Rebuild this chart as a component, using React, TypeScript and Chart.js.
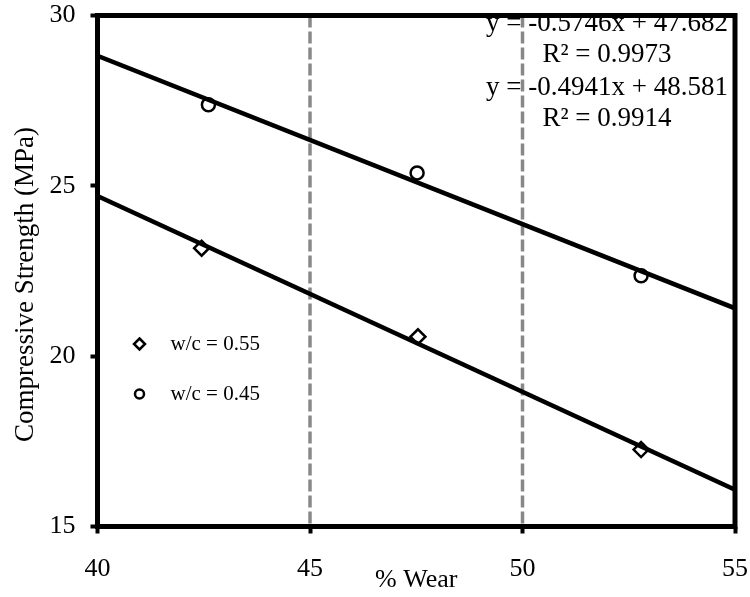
import React, { useEffect, useRef } from "react";
import { Chart, registerables } from "chart.js";

Chart.register(...registerables);

// ---- Data ----
const xTicks = [40, 45, 50, 55];
const yTicks = [15, 20, 25, 30];
const referenceWear = [45, 50];

const wear055 = [42.45, 47.54, 52.79];
const strength055 = [23.17, 20.57, 17.26];
const wear045 = [42.61, 47.52, 52.79];
const strength045 = [27.38, 25.38, 22.36];

const fitSlopes = [-0.5746, -0.4941];
const fitIntercepts = [47.682, 48.581];
const equationLines = [
  "y = -0.5746x + 47.682",
  "R\u00B2 = 0.9973",
  "y = -0.4941x + 48.581",
  "R\u00B2 = 0.9914",
];
const legendLabels = ["w/c = 0.55", "w/c = 0.45"];
const xTitle = "% Wear";
const yTitle = "Compressive Strength (MPa)";

const FONT = "'Liberation Serif', 'Times New Roman', serif";

const xMin = xTicks[0];
const xMax = xTicks[xTicks.length - 1];
const yMin = yTicks[0];
const yMax = yTicks[yTicks.length - 1];

const trend = (i: number) => [
  { x: xMin, y: fitSlopes[i] * xMin + fitIntercepts[i] },
  { x: xMax, y: fitSlopes[i] * xMax + fitIntercepts[i] },
];

const overlayPlugin = {
  id: "overlay",
  afterDraw(chart: any) {
    const { ctx, chartArea } = chart;
    const { left, top, right, bottom } = chartArea;
    ctx.save();
    // frame
    ctx.strokeStyle = "#000";
    ctx.lineWidth = 5;
    ctx.strokeRect(left, top, right - left, bottom - top);

    // equations
    ctx.fillStyle = "#000";
    ctx.textAlign = "center";
    ctx.textBaseline = "middle";
    ctx.font = `27px ${FONT}`;
    const eqY = [24, 54.5, 87.5, 118.5];
    equationLines.forEach((t, i) => {
      ctx.fillText(t, 607, eqY[i]);
    });

    // legend
    ctx.font = `21px ${FONT}`;
    ctx.textAlign = "left";
    const lx = left + 42;
    const ly = [top + 328.5, top + 378.5];
    ctx.lineWidth = 2.5;
    ctx.strokeStyle = "#000";
    ctx.fillStyle = "#fff";
    // diamond
    const r = 5.5;
    ctx.beginPath();
    ctx.moveTo(lx, ly[0] - r);
    ctx.lineTo(lx + r, ly[0]);
    ctx.lineTo(lx, ly[0] + r);
    ctx.lineTo(lx - r, ly[0]);
    ctx.closePath();
    ctx.fill();
    ctx.stroke();
    // circle
    ctx.beginPath();
    ctx.arc(lx, ly[1], 4.5, 0, Math.PI * 2);
    ctx.fill();
    ctx.stroke();
    ctx.fillStyle = "#000";
    legendLabels.forEach((t, i) => ctx.fillText(t, lx + 31, ly[i]));
    ctx.restore();
  },
};

export default function App() {
  const ref = useRef<HTMLCanvasElement | null>(null);
  useEffect(() => {
    if (!ref.current) return;
    const chart = new Chart(ref.current, {
      type: "scatter",
      data: {
        datasets: [
          ...referenceWear.map((w) => ({
            type: "line" as const,
            label: `ref ${w}`,
            data: [
              { x: w, y: yMax },
              { x: w, y: yMin },
            ],
            borderColor: "#888888",
            borderWidth: 3.5,
            borderDash: [12, 4],
            pointRadius: 0,
            order: 3,
          })),
          {
            type: "line" as const,
            label: "fit 0.55",
            data: trend(0),
            borderColor: "#000",
            borderWidth: 4.5,
            pointRadius: 0,
            order: 0,
          },
          {
            type: "line" as const,
            label: "fit 0.45",
            data: trend(1),
            borderColor: "#000",
            borderWidth: 4.5,
            pointRadius: 0,
            order: 0,
          },
          {
            label: legendLabels[0],
            data: wear055.map((x, i) => ({ x, y: strength055[i] })),
            pointStyle: "rectRot",
            pointRadius: 7.5,
            pointBorderWidth: 2.5,
            pointBackgroundColor: "#fff",
            pointBorderColor: "#000",
            order: 1,
          },
          {
            label: legendLabels[1],
            data: wear045.map((x, i) => ({ x, y: strength045[i] })),
            pointStyle: "circle",
            pointRadius: 6.5,
            pointBorderWidth: 2.5,
            pointBackgroundColor: "#fff",
            pointBorderColor: "#000",
            order: 1,
          },
        ],
      },
      options: {
        animation: false,
        responsive: false,
        layout: { padding: { left: 0, right: 15, top: 15.5, bottom: 0 } },
        plugins: {
          legend: { display: false },
          tooltip: { enabled: false },
        },
        scales: {
          x: {
            type: "linear",
            min: xMin,
            max: xMax,
            afterBuildTicks: (s: any) => {
              s.ticks = xTicks.map((v) => ({ value: v }));
            },
            afterFit: (s: any) => {
              s.height = 70.5;
              s.paddingLeft = 0;
              s.paddingRight = 0;
            },
            ticks: {
              color: "#000",
              font: { family: FONT, size: 26 },
              padding: 20,
            },
            grid: {
              drawOnChartArea: false,
              drawTicks: true,
              tickLength: 7,
              tickWidth: 4,
              tickColor: "#000",
            },
            border: { display: false },
            title: {
              display: true,
              text: xTitle,
              color: "#000",
              font: { family: FONT, size: 26 },
              padding: { top: 0, bottom: 1 },
            },
          },
          y: {
            type: "linear",
            min: yMin,
            max: yMax,
            afterBuildTicks: (s: any) => {
              s.ticks = yTicks.map((v) => ({ value: v }));
            },
            afterFit: (s: any) => {
              s.width = 97.5;
              s.paddingTop = 0;
              s.paddingBottom = 0;
            },
            ticks: {
              color: "#000",
              font: { family: FONT, size: 26 },
              padding: 15,
            },
            grid: {
              drawOnChartArea: false,
              drawTicks: true,
              tickLength: 7,
              tickWidth: 4,
              tickColor: "#000",
            },
            border: { display: false },
            title: {
              display: true,
              text: yTitle + "\u00A0\u00A0\u00A0\u00A0",
              color: "#000",
              font: { family: FONT, size: 27 },
              padding: { top: 10, bottom: 0 },
            },
          },
        },
      },
      plugins: [overlayPlugin],
    });
    return () => chart.destroy();
  }, []);
  return (
    <div style={{ position: "fixed", left: 0, top: 0, width: 750, height: 597, background: "#fff" }}>
      <canvas ref={ref} width={750} height={597} style={{ width: 750, height: 597 }} />
    </div>
  );
}
